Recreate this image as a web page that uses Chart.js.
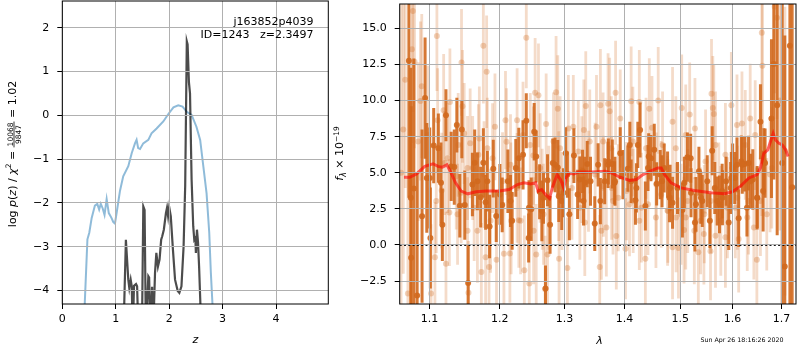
<!DOCTYPE html>
<html><head><meta charset="utf-8">
<script src="https://cdn.jsdelivr.net/npm/chart.js@4"></script>
<style>
html,body{margin:0;padding:0;background:#fff;width:800px;height:350px;overflow:hidden}
canvas{position:absolute;top:0}
#c1{left:0}
#c2{left:330px}
</style></head><body>
<canvas id="c1" width="335" height="350"></canvas>
<canvas id="c2" width="470" height="350"></canvas>
<script>
// ---------------- Left panel: p(z) ----------------
const zTicks = [0, 1, 2, 3, 4];
const pTicks = [-4, -3, -2, -1, 0, 1, 2];
const zBlue = [0.40,0.42,0.47,0.505,0.55,0.61,0.655,0.69,0.72,0.755,0.79,0.83,0.87,0.92,0.955,0.985,1.02,1.08,1.14,1.235,1.30,1.36,1.39,1.42,1.455,1.515,1.61,1.67,1.765,1.89,1.985,2.08,2.17,2.25,2.33,2.42,2.51,2.58,2.64,2.70,2.75,2.78,2.81,2.83];
const pBlue = [-4.6,-4.3,-2.83,-2.68,-2.34,-2.06,-2.02,-2.15,-2.02,-2.12,-2.27,-1.91,-2.23,-2.34,-2.44,-2.47,-2.20,-1.72,-1.39,-1.16,-0.86,-0.64,-0.56,-0.75,-0.77,-0.64,-0.56,-0.41,-0.30,-0.14,0.03,0.18,0.23,0.20,0.08,0.01,-0.26,-0.56,-1.17,-1.78,-2.68,-3.59,-4.3,-4.8];
const zDark = [1.10,1.155,1.19,1.235,1.254,1.28,1.30,1.318,1.342,1.38,1.40,1.425,1.49,1.516,1.54,1.565,1.61,1.625,1.65,1.68,1.70,1.735,1.76,1.79,1.82,1.85,1.87,1.90,1.94,1.96,1.98,2.00,2.03,2.07,2.11,2.16,2.19,2.23,2.27,2.30,2.33,2.345,2.37,2.39,2.42,2.45,2.47,2.49,2.50,2.52,2.54,2.56,2.59,2.62];
const pDark = [-5,-4.5,-2.84,-3.75,-3.94,-3.75,-3.90,-5,-3.89,-3.85,-3.90,-5,-5,-2.08,-2.16,-5,-3.67,-3.70,-5,-3.91,-5,-3.60,-3.14,-3.45,-3.29,-2.84,-2.76,-2.61,-2.23,-2.11,-2.30,-2.09,-2.30,-3.06,-3.75,-4.01,-4.05,-3.90,-2.99,-1.60,1.69,1.62,0.75,0.50,-1.47,-2.53,-2.84,-2.80,-3.14,-2.61,-2.90,-3.45,-4.5,-5];
const zMin = 0, zMax = 4.978, pMin = -4.305, pMax = 2.608;

// ---------------- Right panel: spectrum ----------------
const lamTicks = [1.1, 1.2, 1.3, 1.4, 1.5, 1.6, 1.7];
const fluxTicks = [-2.5, 0, 2.5, 5, 7.5, 10, 12.5, 15];
const lamMin = 1.0603, lamMax = 1.7305, fMin = -4.093, fMax = 16.69;

const darkWave = [1.0724,1.0754,1.0790,1.0834,1.0900,1.0941,1.0964,1.1013,1.1058,1.1122,
1.1158,1.1177,1.1227,1.1343,1.1379,1.1421,1.1449,1.1491,1.1539,1.1600,
1.1633,1.1672,1.1719,1.1758,1.1791,1.1849,1.1903,1.1947,1.2001,1.2035,
1.2120,1.2159,1.2184,1.2285,1.2349,1.2399,1.2435,1.2475,1.2521,1.2552,
1.2605,1.2640,1.2697,1.2729,1.2769,1.2812,1.2848,1.2954,1.3045,1.3077,
1.3151,1.3211,1.3248,1.3292,1.3329,1.3369,1.3423,1.3494,1.3550,1.3588,
1.3718,1.3790,1.3829,1.3926,1.4058,1.4115,1.4190,1.4232,1.4272,1.4365,
1.4424,1.4524,1.4567,1.4703,1.4811,1.4856,1.5038,1.5132,1.5273,1.5348,
1.5507,1.5557,1.5602,1.5652,1.5743,1.5873,1.5924,1.6042,1.6121,1.6243,
1.6405,1.6494,1.6561,1.6616,1.6788,1.6837,1.6907,1.7067,1.7175,1.7223,
1.2666,1.2891,1.2981,1.3018,1.3661,1.3972,1.4465,1.4631,1.4765,1.4947,
1.5193,1.5412,1.5699,1.5795,1.5976,1.6002,1.6088,1.6173,1.6287,1.6319,
1.6656,1.7013,1.1816,1.0750,1.1004,1.1300,1.2239,1.2440,1.2907,1.3308,
1.3723,1.3836,1.4092,1.4207,1.4412,1.4664,1.4801,1.5075,1.5199,1.5292,
1.5386,1.5801,1.5963,1.6193,1.6359,1.6494,1.6630];
const darkFlux = [12.76,-0.89,3.91,-3.50,1.99,10.17,4.64,0.48,6.88,6.70,
4.30,1.39,8.99,5.39,8.30,2.72,8.00,2.76,-2.63,4.18,
5.69,4.41,3.31,5.69,2.95,1.28,5.28,2.01,3.50,2.77,
4.41,3.04,1.67,6.01,6.24,8.60,0.48,2.47,7.84,6.13,
3.68,2.36,-3.02,4.48,1.39,5.67,5.55,3.04,4.87,2.13,
6.19,3.50,4.53,5.10,4.30,5.60,4.41,1.48,5.55,3.04,
5.55,5.60,4.30,6.35,5.28,4.41,3.09,6.93,7.96,2.70,
6.13,6.59,4.23,5.33,3.95,2.92,2.42,6.08,1.55,5.10,
4.41,1.67,6.52,3.95,2.81,4.41,1.55,4.64,1.85,5.60,
4.53,3.27,8.53,3.73,8.75,12.53,9.67,-1.49,13.79,4.00,
3.27,5.37,3.61,6.35,4.41,4.87,6.01,4.87,4.87,3.95,
6.01,3.04,3.04,3.73,4.64,5.33,5.55,5.78,2.58,5.67,
5.67,5.67,4.41,3.27,4.64,5.44,5.33,2.58,3.38,3.04,
5.78,4.41,6.93,3.95,5.33,4.41,3.27,4.30,3.61,2.81,
3.27,3.27,3.95,5.55,4.41,3.27,5.78];
const darkErr = [9.5,10.5,9.0,8.5,6.0,4.2,3.8,3.5,2.6,2.4,
2.8,2.5,1.8,2.6,1.9,2.2,2.0,2.4,2.6,2.2,
2.3,2.0,2.1,2.4,1.9,2.2,2.0,1.8,2.1,1.9,
2.2,1.8,2.0,2.1,2.4,1.9,1.7,2.2,2.0,1.8,
1.9,2.1,1.6,1.8,2.0,1.7,1.9,2.0,1.6,1.8,
1.9,1.7,1.6,1.5,1.8,1.6,1.7,1.9,1.5,1.6,
1.6,1.7,1.5,1.8,1.6,1.5,1.7,1.6,1.9,1.7,
1.6,1.8,1.5,1.7,1.6,1.8,1.9,1.7,2.0,1.7,
1.8,1.9,1.7,1.8,2.0,1.7,1.9,1.8,2.0,1.9,
2.1,2.2,2.6,2.8,5.5,8.0,9.0,16.0,18.0,18.0,
1.8,1.9,1.7,1.8,1.6,1.7,1.6,1.7,1.6,1.8,
1.7,1.8,1.7,1.9,1.8,1.7,1.9,1.8,2.0,1.9,
2.4,16.0,2.1,9.0,3.5,2.4,2.0,1.9,1.8,1.7,
1.6,1.7,1.6,1.7,1.6,1.8,1.7,1.8,1.7,1.9,
1.8,1.9,1.8,2.0,1.9,2.1,2.3];

const lightWave = [1.0676,1.0764,1.0777,1.0799,1.0896,1.0879,1.1102,1.1112,1.1195,1.1282,
1.1398,1.1459,1.1445,1.1483,1.1568,1.1700,1.1758,1.1806,1.1816,1.1928,
1.1075,1.1227,1.1168,1.1274,1.1544,1.1729,1.1791,1.1841,1.1951,1.1530,
1.1672,1.0711,1.1022,1.1686,1.2399,1.2535,1.2587,1.2864,1.2891,1.2084,
1.2259,1.2707,1.2099,1.2508,1.3141,1.3345,1.3313,1.3523,1.2169,1.2285,
1.2061,1.2150,1.2369,1.2445,1.2552,1.2691,1.2729,1.2912,1.3045,1.3329,
1.3846,1.3718,1.3588,1.3745,1.3926,1.4115,1.4258,1.4595,1.4435,1.4483,
1.5025,1.5174,1.5273,1.4856,1.3605,1.3577,1.3858,1.4017,1.4365,1.3689,
1.4856,1.4965,1.5068,1.5589,1.5614,1.5633,1.5976,1.6088,1.6187,1.6353,
1.6589,1.6601,1.6903,1.6855,1.6454,1.5475,1.5380,1.5443,1.5337,1.5570,
1.5666,1.5859,1.6121,1.6488,1.1209,1.1371,1.1440,1.1604,1.1893,1.2040,
1.2164,1.2312,1.2645,1.2749,1.2907,1.2959,1.3119,1.3280,1.3390,1.3500,
1.3639,1.3778,1.3892,1.4034,1.4150,1.4295,1.4412,1.4560,1.4650,1.4770,
1.4921,1.5013,1.5137,1.5261,1.5450,1.5576,1.5769,1.5898,1.6094,1.6293,
1.6427,1.6561,1.6759,1.6965,1.7070,1.0621,1.0650,
1.2349,1.2159,1.2460,1.2614,1.2823,1.2928,1.3061,1.3222,1.3411,1.2259,
1.2666,1.3248,1.2512,1.3634,1.3773,1.4145,1.4377,1.4674,1.4916,1.5100,
1.3802,1.4086,1.4554,1.4765,1.5100,1.4258,1.5666,1.5859,1.6253,1.6589,
1.6794,1.5730,1.6055,1.6319,1.6691,1.0848,1.0977,1.1250,1.1530,1.1768,
1.1093,1.1389,1.1625,1.1864];
const lightFlux = [11.45,13.56,16.2,12.69,11.0,9.97,14.47,8.64,9.33,9.90,
6.93,9.60,12.64,7.72,7.04,7.38,13.79,12.0,6.70,8.18,
-0.85,-1.30,3.77,2.24,-3.32,-1.88,-0.85,-1.53,-1.03,0.98,
0.98,-3.36,-3.36,6.24,14.36,10.54,10.36,10.58,9.44,8.64,
8.64,8.37,7.15,6.19,8.18,9.62,7.96,8.18,1.67,1.71,
-0.62,-0.60,-1.76,-2.68,-0.66,-3.07,-0.66,-0.96,-1.60,1.55,
10.54,9.78,9.67,9.26,8.75,9.95,9.90,10.01,9.44,8.11,
9.49,9.03,8.07,8.53,0.98,-1.53,0.62,-0.27,-0.96,1.21,
-0.16,-0.21,1.03,10.47,9.49,9.07,9.67,8.30,8.41,8.75,
14.70,12.41,15.73,16.5,7.61,5.78,1.67,0.76,-0.50,-0.44,
0.64,0.53,0.41,-1.03,5.67,4.76,3.61,5.33,6.01,4.41,
3.50,1.67,3.16,3.27,4.07,3.04,3.95,5.21,4.41,4.87,
4.07,3.95,3.27,3.73,3.04,2.58,2.81,4.18,3.50,2.36,
1.90,2.13,3.04,0.98,2.13,3.04,1.67,2.58,3.27,1.90,
1.21,3.04,4.87,10.0,6.5,5.0,8.0,
7.61,5.55,6.93,5.33,7.16,6.70,8.07,6.47,7.16,3.95,
2.13,2.58,0.98,7.16,6.70,7.16,6.70,6.93,6.70,7.61,
3.04,2.81,1.90,2.36,1.90,1.67,6.93,6.24,6.93,6.01,
5.33,3.50,2.58,3.04,2.13,7.16,7.61,6.01,5.33,4.87,
3.04,2.13,2.58,1.67];
const lightErr = [7.5,6.5,7.0,6.0,5.0,5.5,3.8,3.6,3.9,3.7,
3.6,3.9,3.7,3.5,3.8,3.6,4.0,3.9,3.5,3.7,
3.8,3.6,4.0,3.7,3.6,3.4,3.6,3.8,3.5,3.7,
3.6,8.0,4.8,3.5,3.5,3.8,3.6,3.9,3.7,3.4,
3.6,3.5,3.7,3.4,3.6,3.8,3.5,3.6,3.7,3.3,
3.6,3.4,3.8,3.6,3.5,3.7,3.4,3.6,3.5,3.7,
3.6,3.5,3.9,3.7,3.4,3.8,3.6,3.7,3.5,3.6,
3.7,3.6,3.5,3.8,3.4,3.6,3.7,3.5,3.6,3.4,
3.6,3.5,3.7,3.8,3.6,3.4,3.7,3.5,3.6,3.8,
4.8,4.4,7.0,6.0,3.8,3.6,3.7,3.5,3.6,3.4,
3.6,3.5,3.7,3.8,3.6,3.7,3.5,3.6,3.8,3.4,
3.6,3.7,3.5,3.6,3.8,3.4,3.6,3.7,3.5,3.6,
3.5,3.6,3.7,3.4,3.6,3.8,3.5,3.6,3.7,3.6,
3.8,3.5,3.6,3.7,3.4,3.6,3.8,3.5,3.6,3.7,
3.6,3.8,4.0,9.0,10.0,12.0,10.0,
3.7,3.5,3.6,3.8,3.4,3.6,3.7,3.5,3.6,3.8,
3.5,3.6,3.7,3.4,3.6,3.8,3.5,3.7,3.6,3.5,
3.7,3.6,3.5,3.8,3.6,3.4,3.7,3.6,3.8,4.0,
4.2,3.6,3.5,3.7,3.9,5.5,4.8,3.8,3.6,3.7,
3.6,3.5,3.7,3.6];

const modelWave = [1.0659,1.0737,1.0826,1.0937,1.1049,1.1116,1.1177,1.1240,1.1300,1.1361,1.1440,1.1534,1.1653,1.1797,1.1991,1.2139,1.2264,1.2364,1.2466,1.2543,1.2583,1.2636,1.2697,1.2760,1.2812,1.2881,1.2935,1.2986,1.3023,1.3066,1.3146,1.3227,1.3445,1.3667,1.3778,1.3920,1.4091,1.4207,1.4324,1.4442,1.4590,1.4650,1.4711,1.4830,1.5013,1.5261,1.5576,1.5839,1.5996,1.6160,1.6327,1.6494,1.6561,1.6630,1.6713,1.6768,1.6824,1.6872,1.6944,1.7014,1.7085,1.7136];
const modelFlux = [4.69,4.69,4.92,5.44,5.62,5.44,5.39,5.55,4.98,4.30,3.73,3.54,3.68,3.73,3.73,3.84,4.18,4.30,4.23,4.30,3.73,3.84,3.50,3.22,4.07,4.87,4.53,3.95,4.64,4.98,4.92,5.05,5.05,5.10,4.98,4.69,4.46,4.53,4.87,5.10,5.33,5.33,4.87,4.30,3.95,3.77,3.61,3.54,3.68,4.07,4.64,4.87,5.33,6.35,6.59,7.16,7.73,7.27,7.04,6.93,6.59,6.13];

// ---------------- helpers ----------------
const FONT = "'DejaVu Sans', sans-serif";
Chart.defaults.font.family = FONT;
Chart.defaults.font.size = 11;
Chart.defaults.color = '#000';
const minus = s => String(s).replace('-', '\u2212');
const pts = (xs, ys) => xs.map((x, i) => ({x: x, y: ys[i]}));

function fixedScale(extra, size, horizontal) {
  return Object.assign({
    bounds: 'data',
    z: 1,
    grid: {z: 1, color: '#b0b0b0', lineWidth: 1, drawTicks: true, tickLength: 5, tickColor: '#000', tickWidth: 1},
    border: {display: false},
    afterFit(s) {
      if (horizontal) s.height = size; else s.width = size;
      s.paddingLeft = s.paddingRight = s.paddingTop = s.paddingBottom = 0;
    }
  }, extra);
}

function richWidth(ctx, segs) {
  let w = 0;
  for (const s of segs) {
    ctx.font = s.font;
    if (s.frac) w += Math.max(ctx.measureText(s.num).width, ctx.measureText(s.den).width) + 2;
    else w += ctx.measureText(s.t).width;
  }
  return w;
}
function drawRich(ctx, segs, cx, cy, rot) {
  ctx.save();
  ctx.translate(cx, cy);
  if (rot) ctx.rotate(rot);
  ctx.fillStyle = '#000'; ctx.textBaseline = 'alphabetic'; ctx.textAlign = 'left';
  let x = -richWidth(ctx, segs) / 2;
  for (const s of segs) {
    ctx.font = s.font;
    if (s.frac) {
      const nw = ctx.measureText(s.num).width, dw = ctx.measureText(s.den).width, fw = Math.max(nw, dw) + 2;
      ctx.fillText(s.num, x + (fw - nw) / 2, -2.6);
      ctx.fillText(s.den, x + (fw - dw) / 2, 5.6);
      ctx.fillRect(x, -1.9, fw, 0.8);
      x += fw;
    } else {
      ctx.fillText(s.t, x, s.dy || 0);
      x += ctx.measureText(s.t).width;
    }
  }
  ctx.restore();
}
const N = '11px ' + FONT, I = 'italic 11px ' + FONT, S = '7.5px ' + FONT, SI = 'italic 8px ' + FONT;

const frame = {
  id: 'frame',
  afterDraw(chart) {
    const {ctx, chartArea: a} = chart;
    ctx.save(); ctx.strokeStyle = '#000'; ctx.lineWidth = 1;
    ctx.strokeRect(a.left, a.top, a.right - a.left, a.bottom - a.top);
    ctx.restore();
  }
};
const errorBars = {
  id: 'errorBars',
  beforeDatasetDraw(chart, args) {
    const ds = chart.data.datasets[args.index];
    if (!ds.errors) return;
    const {ctx, chartArea: a} = chart, xs = chart.scales.x, ys = chart.scales.y;
    ctx.save();
    ctx.beginPath(); ctx.rect(a.left, a.top, a.right - a.left, a.bottom - a.top); ctx.clip();
    ctx.strokeStyle = ds.errorColor; ctx.lineWidth = ds.errorWidth; ctx.lineCap = 'butt';
    ds.data.forEach((p, i) => {
      const e = ds.errors[i], px = xs.getPixelForValue(p.x);
      ctx.beginPath();
      ctx.moveTo(px, ys.getPixelForValue(p.y - e));
      ctx.lineTo(px, ys.getPixelForValue(p.y + e));
      ctx.stroke();
    });
    ctx.restore();
  }
};

// ---------------- left chart ----------------
new Chart(document.getElementById('c1'), {
  type: 'scatter',
  data: {datasets: [
    {data: pts(zDark, pDark), showLine: true, borderColor: 'rgba(0,0,0,0.7)', borderWidth: 2.2, pointRadius: 0, clip: 0, order: 0},
    {data: pts(zBlue, pBlue), showLine: true, borderColor: 'rgba(31,119,180,0.5)', borderWidth: 2, pointRadius: 0, clip: 0, order: 1}
  ]},
  options: {
    responsive: false, animation: false, events: [],
    layout: {padding: {left: 0, right: 6.7, top: 1, bottom: 0}},
    plugins: {legend: {display: false}, tooltip: {enabled: false}},
    scales: {
      x: fixedScale({type: 'linear', min: zMin, max: zMax,
        afterBuildTicks: s => { s.ticks = zTicks.map(v => ({value: v})); },
        ticks: {padding: 4, autoSkip: false, maxRotation: 0, callback: v => minus(v)}}, 46, true),
      y: fixedScale({type: 'linear', min: pMin, max: pMax,
        afterBuildTicks: s => { s.ticks = pTicks.map(v => ({value: v})); },
        ticks: {padding: 8, autoSkip: false, callback: v => minus(v)}}, 62.3, false)
    }
  },
  plugins: [frame, {
    id: 'deco1',
    afterDraw(chart) {
      const ctx = chart.ctx;
      ctx.save();
      ctx.fillStyle = '#000'; ctx.font = N; ctx.textAlign = 'right'; ctx.textBaseline = 'alphabetic';
      ctx.fillText('j163852p4039', 313.5, 24.5);
      ctx.fillText('ID=1243   z=2.3497', 313.5, 37.8);
      ctx.restore();
      drawRich(ctx, [{t: 'z', font: I}], 195.3, 343);
      drawRich(ctx, [
        {t: 'log ', font: N}, {t: 'p', font: I}, {t: '(', font: N}, {t: 'z', font: I}, {t: ')', font: N},
        {t: ' / ', font: N}, {t: '\u03c7', font: I}, {t: '2', font: S, dy: -4.5}, {t: ' = ', font: N},
        {frac: true, num: '10068', den: '9847', font: S}, {t: ' = 1.02', font: N}
      ], 15.5, 154, -Math.PI / 2);
    }
  }]
});

// ---------------- right chart ----------------
new Chart(document.getElementById('c2'), {
  type: 'scatter',
  data: {datasets: [
    {data: [{x: lamMin, y: 0}, {x: lamMax, y: 0}], showLine: true, borderColor: 'rgba(0,0,0,0.9)', borderWidth: 2, borderDash: [2, 2.3], pointRadius: 0, clip: 0, order: 0},
    {data: pts(modelWave, modelFlux), showLine: true, borderColor: 'rgba(255,0,0,0.6)', borderWidth: 3, pointRadius: 0, clip: 0, order: 1},
    {data: pts(darkWave, darkFlux), errors: darkErr, errorColor: 'rgba(210,105,30,0.9)', errorWidth: 3,
     pointRadius: 3, pointBorderWidth: 0, backgroundColor: 'rgba(210,105,30,0.9)', borderColor: 'rgba(0,0,0,0)', clip: 0, order: 2},
    {data: pts(lightWave, lightFlux), errors: lightErr, errorColor: 'rgba(210,105,30,0.24)', errorWidth: 2.8,
     pointRadius: 3, pointBorderWidth: 0, backgroundColor: 'rgba(210,105,30,0.3)', borderColor: 'rgba(0,0,0,0)', clip: 0, order: 3}
  ]},
  options: {
    responsive: false, animation: false, events: [],
    layout: {padding: {left: 0, right: 0.5, top: 1, bottom: 0}},
    plugins: {legend: {display: false}, tooltip: {enabled: false}},
    scales: {
      x: fixedScale({type: 'logarithmic', min: lamMin, max: lamMax,
        afterBuildTicks: s => { s.ticks = lamTicks.map(v => ({value: v})); },
        ticks: {padding: 4, autoSkip: false, maxRotation: 0, callback: v => Number(v).toFixed(1)}}, 46, true),
      y: fixedScale({type: 'linear', min: fMin, max: fMax,
        afterBuildTicks: s => { s.ticks = fluxTicks.map(v => ({value: v})); },
        ticks: {padding: 8, autoSkip: false, callback: v => minus(Number(v).toFixed(1))}}, 69.7, false)
    }
  },
  plugins: [errorBars, frame, {
    id: 'deco2',
    afterDraw(chart) {
      const ctx = chart.ctx;
      drawRich(ctx, [{t: '\u03bb', font: I}], 269.6, 344);
      drawRich(ctx, [
        {t: 'f', font: I}, {t: '\u03bb', font: SI, dy: 2.5}, {t: ' \u00d7 10', font: N}, {t: '\u221219', font: S, dy: -4.5}
      ], 13, 153.5, -Math.PI / 2);
      ctx.save();
      ctx.fillStyle = '#000'; ctx.font = '6.3px ' + FONT; ctx.textAlign = 'center'; ctx.textBaseline = 'alphabetic';
      ctx.fillText('Sun Apr 26 18:16:26 2020', 412, 341.5);
      ctx.restore();
    }
  }]
});
</script>
</body></html>
